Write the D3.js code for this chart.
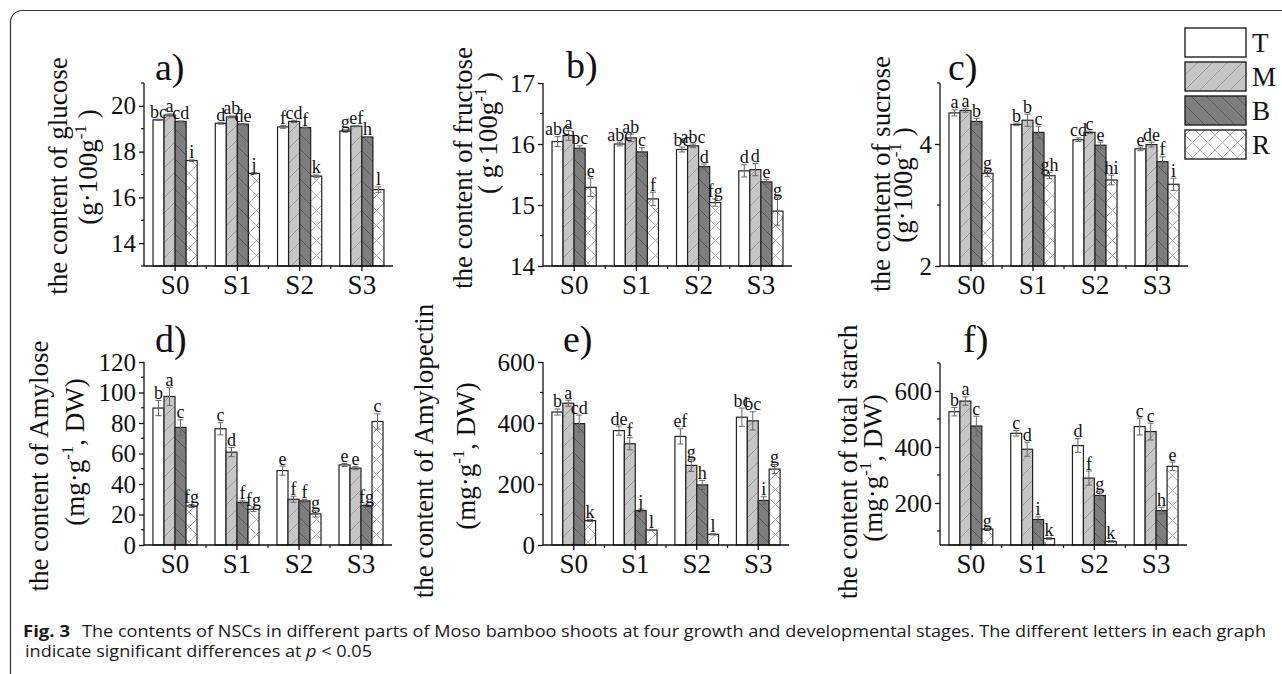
<!DOCTYPE html>
<html><head><meta charset="utf-8">
<script src="https://cdn.jsdelivr.net/npm/d3@7"></script>
<style>
html,body{margin:0;padding:0;background:#fff;}
svg{display:block;}
</style></head><body>
<svg id="chart" width="1282" height="674"></svg>
<script>
// ---------- data ----------
const stages = ["S0","S1","S2","S3"];
const parts = ["T","M","B","R"];

const glucose = [[19.39,19.60,19.32,17.61],[19.24,19.52,19.20,17.05],[19.08,19.32,19.05,16.93],[18.90,19.11,18.64,16.34]];
const glucoseErr = [[0.03,0.05,0.02,0.03],[0.04,0.04,0.03,0.03],[0.06,0.05,0.02,0.05],[0.05,0.02,0.02,0.12]];
const glucoseLetters = [["bc","a","cd","i"],["d","ab","de","j"],["f","cd","f","k"],["g","ef","h","l"]];
const glucoseDomain = [13,21];
const glucoseTicks = [14,16,18,20];
const glucoseMinor = [13,15,17,19,21];

const fructose = [[16.04,16.14,15.93,15.29],[16.00,16.10,15.87,15.10],[15.91,15.97,15.63,15.04],[15.56,15.58,15.38,14.90]];
const fructoseErr = [[0.08,0.08,0.04,0.15],[0.03,0.06,0.07,0.11],[0.04,0.03,0.04,0.06],[0.10,0.10,0.04,0.23]];
const fructoseLetters = [["abc","a","bc","e"],["abc","ab","c","f"],["bc","abc","d","fg"],["d","d","e","g"]];
const fructoseDomain = [14,17];
const fructoseTicks = [14,15,16,17];
const fructoseMinor = [14.5,15.5,16.5];

const sucrose = [[4.51,4.55,4.37,3.52],[4.32,4.39,4.19,3.48],[4.07,4.19,3.98,3.41],[3.92,3.99,3.71,3.34]];
const sucroseErr = [[0.05,0.03,0.05,0.05],[0.02,0.10,0.10,0.05],[0.03,0.02,0.05,0.08],[0.03,0.04,0.08,0.10]];
const sucroseLetters = [["a","a","b","g"],["b","b","c","gh"],["cd","c","e","hi"],["e","de","f","i"]];
const sucroseDomain = [2,5];
const sucroseTicks = [2,4];
const sucroseMinor = [3,5];

const amylose = [[89.8,97.4,77.1,25.6],[76.2,60.9,28.0,23.4],[48.8,30.0,28.9,20.4],[52.5,50.4,25.8,81.0]];
const amyloseErr = [[5,6,5,1],[4,3,1,1.5],[3,2,1,2],[1,1,1,5]];
const amyloseLetters = [["b","a","c","fg"],["c","d","f","fg"],["e","f","f","g"],["e","e","fg","c"]];
const amyloseDomain = [0,120];
const amyloseTicks = [0,20,40,60,80,100,120];
const amyloseMinor = [10,30,50,70,90,110];

const amylopectin = [[436,465,398,80],[375,332,113,49],[356,261,197,35],[419,407,146,249]];
const amylopectinErr = [[10,10,28,3],[15,20,5,2],[25,20,15,2],[30,30,12,15]];
const amylopectinLetters = [["b","a","cd","k"],["de","f","j","l"],["ef","g","h","l"],["bc","bc","i","g"]];
const amylopectinDomain = [0,600];
const amylopectinTicks = [0,200,400,600];
const amylopectinMinor = [100,300,500];

const starch = [[526,564,475,107],[449,392,141,73],[405,289,227,63],[473,455,173,331]];
const starchErr = [[15,15,35,3],[10,25,10,3],[25,25,15,3],[30,30,12,15]];
const starchLetters = [["b","a","c","g"],["c","d","i","k"],["d","f","g","k"],["c","c","h","e"]];
const starchDomain = [50,700];
const starchTicks = [200,400,600];
const starchMinor = [100,300,500,700];

const panelLabels = ["a)","b)","c)","d)","e)","f)"];
const titles1 = ["the content of glucose","the content of fructose","the content of sucrose",
                 "the content of Amylose","the content of Amylopectin","the content of total starch"];
const titles2 = [["(g·100g","-1"," )"],["( g·100g","-1"," )"],["(g·100g","-1"," )"],
                 ["(mg·g","-1",", DW)"],["(mg·g","-1",", DW)"],["(mg·g","-1",", DW)"]];
const captionBold = "Fig. 3";
const captionLine1 = "The contents of NSCs in different parts of Moso bamboo shoots at four growth and developmental stages. The different letters in each graph";
const captionLine2a = "indicate significant differences at ";
const captionLine2b = "p";
const captionLine2c = " < 0.05";

// ---------- layout ----------
const SERIF = "'Liberation Serif','Times New Roman',serif";
const panels = [
  {v:glucose, e:glucoseErr, L:glucoseLetters, dom:glucoseDomain, ticks:glucoseTicks, minor:glucoseMinor,
   box:[144,393,83,266], lab:[155,80], t1:[67,176], t2:[97,167]},
  {v:fructose, e:fructoseErr, L:fructoseLetters, dom:fructoseDomain, ticks:fructoseTicks, minor:fructoseMinor,
   box:[543,792,83,266], lab:[566,78], t1:[472,168], t2:[497,133]},
  {v:sucrose, e:sucroseErr, L:sucroseLetters, dom:sucroseDomain, ticks:sucroseTicks, minor:sucroseMinor,
   box:[940,1188,83,266], lab:[948,80], t1:[890,174], t2:[912,185]},
  {v:amylose, e:amyloseErr, L:amyloseLetters, dom:amyloseDomain, ticks:amyloseTicks, minor:amyloseMinor,
   box:[144,392,362,545], lab:[155,352], t1:[48,466], t2:[84,452]},
  {v:amylopectin, e:amylopectinErr, L:amylopectinLetters, dom:amylopectinDomain, ticks:amylopectinTicks, minor:amylopectinMinor,
   box:[543,789,362,545], lab:[563,352], t1:[433,451], t2:[475,456]},
  {v:starch, e:starchErr, L:starchLetters, dom:starchDomain, ticks:starchTicks, minor:starchMinor,
   box:[940,1187,363,545], lab:[963,352], t1:[857,462], t2:[882,468]}
];

const svg = d3.select("#chart");

// patterns
const defs = svg.append("defs");
function pat(id, fill, stroke, d){
  const p = defs.append("pattern").attr("id",id).attr("patternUnits","userSpaceOnUse")
    .attr("width",15).attr("height",15);
  p.append("rect").attr("width",15).attr("height",15).attr("fill",fill);
  p.append("path").attr("d",d).attr("stroke",stroke).attr("stroke-width",0.8).attr("fill","none");
}
pat("pM","#c6c6c6","#8c8c8c","M0,15L15,0M-4,4L4,-4M11,19L19,11");
pat("pB","#7e7e7e","#4a4a4a","M0,0L15,15M-4,11L4,19M11,-4L19,4");
pat("pR","#ffffff","#a0a0a0","M0,15L15,0M-4,4L4,-4M11,19L19,11M0,0L15,15M-4,11L4,19M11,-4L19,4");
const fills = {T:"#ffffff", M:"url(#pM)", B:"url(#pB)", R:"url(#pR)"};

// frame
svg.append("path")
  .attr("d","M10.5,674 L10.5,22 A11.5,11.5 0 0 1 22,10.5 L1282,10.5")
  .attr("fill","none").attr("stroke","#333").attr("stroke-width",1.2);

panels.forEach((P, i) => {
  const [l,r,t,b] = P.box;
  const g = svg.append("g").attr("transform",`translate(${l},${t})`);
  const W = r-l, H = b-t;
  const x0 = d3.scaleBand().domain(stages).range([0,W]).paddingInner(0.29).paddingOuter(0.145);
  const x1 = d3.scaleBand().domain(parts).range([0,x0.bandwidth()]);
  const y = d3.scaleLinear().domain(P.dom).range([H,0]);

  const rows = [];
  stages.forEach((s,si)=>parts.forEach((p,pi)=>rows.push({s,p,v:P.v[si][pi],e:P.e[si][pi],L:P.L[si][pi]})));

  // bars
  g.selectAll("rect.bar").data(rows).enter().append("rect")
    .attr("x",d=>x0(d.s)+x1(d.p)).attr("width",x1.bandwidth())
    .attr("y",d=>y(d.v)).attr("height",d=>H-y(d.v))
    .attr("fill",d=>fills[d.p]).attr("stroke","#222").attr("stroke-width",1.2);

  // error bars
  const cx = d=>x0(d.s)+x1(d.p)+x1.bandwidth()/2;
  const eg = g.append("g").attr("stroke","#666").attr("stroke-width",1);
  eg.selectAll("path").data(rows).enter().append("path")
    .attr("d",d=>{const c=cx(d), y1=y(d.v+d.e), y2=y(d.v-d.e);
      return `M${c},${y1}V${y2}M${c-3},${y1}H${c+3}M${c-3},${y2}H${c+3}`;})
    .attr("fill","none");

  // letters
  g.selectAll("text.sig").data(rows).enter().append("text")
    .attr("x",cx).attr("y",d=>y(d.v+d.e)-1.5)
    .attr("text-anchor","middle").attr("font-family",SERIF).attr("font-size",18).attr("fill","#111")
    .text(d=>d.L);

  // y axis
  const ya = g.append("g").call(d3.axisLeft(y).tickValues(P.ticks).tickSize(5).tickPadding(3).tickFormat(d3.format("d")));
  ya.select(".domain").attr("d",`M0,${H}V0`).attr("stroke","#111").attr("stroke-width",1.3);
  ya.selectAll(".tick line").attr("stroke","#111").attr("stroke-width",1.3);
  ya.selectAll(".tick text").attr("font-family",SERIF).attr("font-size",25).attr("fill","#111");
  g.append("g").selectAll("line").data(P.minor).enter().append("line")
    .attr("x1",-3).attr("x2",0).attr("y1",d=>y(d)).attr("y2",d=>y(d)).attr("stroke","#111").attr("stroke-width",1.2);

  // x axis
  const xa = g.append("g").attr("transform",`translate(0,${H})`).call(d3.axisBottom(x0).tickSize(5).tickSizeOuter(0));
  xa.select(".domain").attr("d",`M0,0H${W}`).attr("stroke","#111").attr("stroke-width",1.3);
  xa.selectAll(".tick line").attr("stroke","#111").attr("stroke-width",1.3);
  xa.selectAll(".tick text").attr("font-family",SERIF).attr("font-size",27).attr("fill","#111")
    .attr("y",28).attr("dy",0);
  const step = x0.step();
  g.append("g").selectAll("line").data(stages.slice(1)).enter().append("line")
    .attr("x1",d=>x0(d)-step*x0.paddingInner()/2).attr("x2",d=>x0(d)-step*x0.paddingInner()/2)
    .attr("y1",H).attr("y2",H+3).attr("stroke","#111").attr("stroke-width",1.2);

  // panel label
  svg.append("text").attr("x",P.lab[0]).attr("y",P.lab[1]).attr("font-family",SERIF)
    .attr("font-size",38).attr("fill","#111").text(panelLabels[i]);

  // y titles
  svg.append("text").attr("transform",`translate(${P.t1[0]},${P.t1[1]}) rotate(-90)`)
    .attr("text-anchor","middle").attr("font-family",SERIF).attr("font-size",27).attr("fill","#111")
    .text(titles1[i]);
  const t2 = svg.append("text").attr("transform",`translate(${P.t2[0]},${P.t2[1]}) rotate(-90)`)
    .attr("text-anchor","middle").attr("font-family",SERIF).attr("font-size",27).attr("fill","#111");
  t2.append("tspan").text(titles2[i][0]);
  t2.append("tspan").attr("font-size",17).attr("dy",-11).text(titles2[i][1]);
  t2.append("tspan").attr("dy",11).text(titles2[i][2]);
});

// legend
const leg = svg.append("g");
parts.forEach((p,i)=>{
  const yy = 28 + i*34;
  leg.append("rect").attr("x",1185).attr("y",yy).attr("width",61).attr("height",29)
    .attr("fill",fills[p]).attr("stroke","#222").attr("stroke-width",1.4);
  leg.append("text").attr("x",1252).attr("y",yy+24).attr("font-family",SERIF)
    .attr("font-size",27).attr("fill","#111").text(p);
});

// caption
const CAP = "'Open Sans','Noto Sans',sans-serif";
svg.append("text").attr("x",23).attr("y",637).attr("font-family",CAP).attr("font-weight","bold")
  .attr("font-size",16.5).attr("fill","#1a1a1a").attr("textLength",47).attr("lengthAdjust","spacingAndGlyphs")
  .text(captionBold);
svg.append("text").attr("x",82).attr("y",637).attr("font-family",CAP)
  .attr("font-size",16.5).attr("fill","#1a1a1a").attr("textLength",1184).attr("lengthAdjust","spacingAndGlyphs")
  .text(captionLine1);
const c2 = svg.append("text").attr("x",25).attr("y",657).attr("font-family",CAP)
  .attr("font-size",16.5).attr("fill","#1a1a1a").attr("textLength",347).attr("lengthAdjust","spacingAndGlyphs");
c2.append("tspan").text(captionLine2a);
c2.append("tspan").attr("font-style","italic").text(captionLine2b);
c2.append("tspan").text(captionLine2c);
</script>
</body></html>
